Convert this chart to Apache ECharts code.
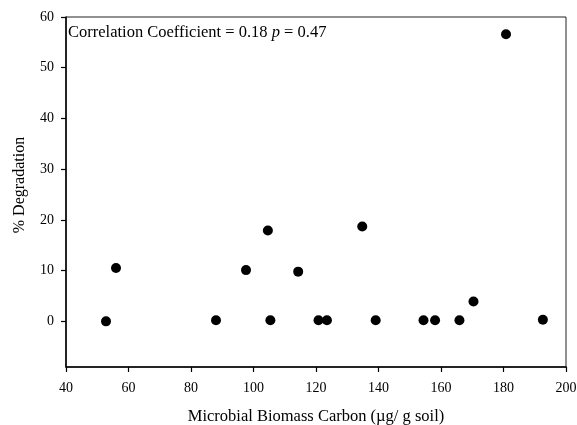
<!DOCTYPE html>
<html>
<head>
<meta charset="utf-8">
<script src="https://cdn.jsdelivr.net/npm/echarts@6/dist/echarts.min.js"></script>
<style>
  html, body { margin: 0; padding: 0; background: #fff; }
  #chart { width: 577px; height: 425px; }
</style>
</head>
<body>
<div id="chart"></div>
<script>
// microbial biomass carbon (x) vs % degradation (y)
const biomassCarbon = [52.8, 56.0, 88.0, 97.6, 104.6, 105.4, 114.3, 120.8, 123.5, 134.8, 139.1, 154.4, 158.1, 165.9, 170.4, 180.8, 192.6];
const degradation   = [0.0, 10.5, 0.2, 10.1, 17.9, 0.2, 9.8, 0.2, 0.2, 18.7, 0.2, 0.2, 0.2, 0.2, 3.9, 56.6, 0.3];
const xTicks = [40, 60, 80, 100, 120, 140, 160, 180, 200];
const yTicks = [0, 10, 20, 30, 40, 50, 60];

const font = 'Liberation Serif';
const points = biomassCarbon.map((x, i) => [x, degradation[i]]);

let chart = echarts.init(document.getElementById('chart'));
let option = {
  animation: false,
  backgroundColor: '#fff',
  textStyle: { fontFamily: font },
  grid: {
    left: 66,
    right: 11,
    top: 17,
    bottom: 58,
    containLabel: false,
    outerBoundsMode: 'none',
    show: true,
    borderColor: '#222',
    borderWidth: 1
  },
  xAxis: {
    type: 'value',
    min: 40,
    max: 200,
    interval: 20,
    name: 'Microbial Biomass Carbon (µg/ g soil)',
    nameLocation: 'middle',
    nameGap: 41,
    nameTextStyle: { color: '#000', fontSize: 16.5, fontFamily: font },
    axisLine: { show: true, onZero: false, lineStyle: { color: '#000', width: 1.5 } },
    axisTick: { show: true, inside: false, length: 5, customValues: xTicks, lineStyle: { color: '#000', width: 1.2 } },
    axisLabel: {
      color: '#000', fontSize: 14, fontFamily: font, margin: 14,
      customValues: xTicks
    },
    splitLine: { show: false }
  },
  yAxis: {
    type: 'value',
    min: -9,
    max: 60,
    interval: 10,
    name: '% Degradation',
    nameLocation: 'middle',
    nameGap: 38,
    nameRotate: 90,
    nameTextStyle: { color: '#000', fontSize: 16, fontFamily: font, padding: [0, 0, 0, 14] },
    axisLine: { show: true, onZero: false, lineStyle: { color: '#000', width: 1.5 } },
    axisTick: { show: true, inside: false, length: 5, customValues: yTicks, lineStyle: { color: '#000', width: 1.2 } },
    axisLabel: {
      color: '#000', fontSize: 14, fontFamily: font, margin: 12,
      customValues: yTicks
    },
    splitLine: { show: false }
  },
  graphic: [{
    type: 'text',
    left: 68,
    top: 24,
    style: {
      text: '{n|Correlation Coefficient = 0.18 }{i|p}{n| = 0.47}',
      rich: {
        n: { fontFamily: font, fontSize: 16.5, fill: '#000' },
        i: { fontFamily: font, fontSize: 16.5, fill: '#000', fontStyle: 'italic' }
      }
    }
  }],
  series: [{
    type: 'scatter',
    symbol: 'circle',
    symbolSize: 10,
    itemStyle: { color: '#000', opacity: 1 },
    data: points
  }]
};
chart.setOption(option);
</script>
</body>
</html>
